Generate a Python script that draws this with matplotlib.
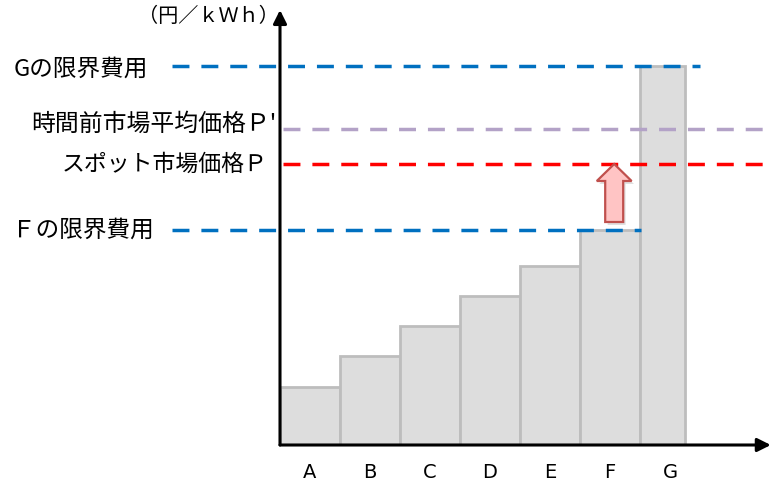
import matplotlib.pyplot as plt
from matplotlib.patches import Polygon

plt.rcParams['font.family'] = ['Noto Sans CJK JP', 'DejaVu Sans']
plt.rcParams['lines.scale_dashes'] = False

# marginal cost per plant (merit order)
plants = ['A', 'B', 'C', 'D', 'E', 'F', 'G']
cost = [5.8, 8.9, 11.9, 14.9, 17.9, 21.5, 37.9]
widths = [1, 1, 1, 1, 1, 1, 0.75]

# price levels
g_cost = 37.9
f_cost = 21.5
spot_p = 28.1
intraday_p = 31.6

fig = plt.figure(figsize=(7.71, 4.82), dpi=100)
ax = fig.add_axes([280 / 771, 37 / 482, 491 / 771, 435 / 482])
ax.set_xlim(0, 491 / 60)
ax.set_ylim(0, 43.5)
ax.axis('off')

lefts = [i for i in range(len(plants))]
ax.bar(lefts, cost, width=widths, align='edge', color='#DDDDDD',
       edgecolor='#BDBDBD', linewidth=2.0, zorder=2)

for i, name in enumerate(plants):
    ax.text(i + 0.5, -2.75, name, ha='center', va='center', fontsize=14,
            family='DejaVu Sans', clip_on=False)

dash = (0, (12.2, 8.6))
ax.plot([-1.8, 7.0], [g_cost, g_cost], color='#0070C0', lw=2.5, ls=dash,
        clip_on=False, zorder=3)
ax.plot([-1.8, 6.02], [f_cost, f_cost], color='#0070C0', lw=2.5, ls=dash,
        clip_on=False, zorder=3)
ax.plot([0.05, 8.2], [intraday_p, intraday_p], color='#B3A2C7', lw=2.5,
        ls=dash, clip_on=False, zorder=3)
ax.plot([0.05, 8.2], [spot_p, spot_p], color='#FF0000', lw=2.5, ls=dash,
        clip_on=False, zorder=3)

labels = [('Gの限界費用', g_cost - 0.35, -2.2, 17),
          ('時間前市場平均価格Ｐ\'', intraday_p + 0.5, -0.05, 17.2),
          ('スポット市場価格Ｐ', spot_p, -0.2, 16.5),
          ('Ｆの限界費用', f_cost, -2.1, 17)]
for text, y, x, size in labels:
    ax.text(x, y, text, ha='right', va='center', fontsize=size, clip_on=False)

ax.text(-0.02, 42.8, '（円／ｋＷｈ）', ha='right', va='center', fontsize=14.5,
        clip_on=False)

# rise from F's marginal cost to the spot price
cx = 5.57
hw, sw = 0.29, 0.15
base = f_cost + 0.8
tip = spot_p
neck = tip - 1.7
outline = [(cx - sw, base), (cx + sw, base), (cx + sw, neck),
           (cx + hw, neck), (cx, tip), (cx - hw, neck), (cx - sw, neck)]
shadow = Polygon([(x + 0.04, y - 0.3) for x, y in outline], closed=True,
                 facecolor='#000000', alpha=0.12, edgecolor='none', zorder=4)
ax.add_patch(shadow)
arrow = Polygon(outline, closed=True, facecolor='#FFC4C4',
                edgecolor='#C0504D', linewidth=1.6, zorder=4)
ax.add_patch(arrow)

# axes with arrow heads
ax.annotate('', xy=(8.18, 0), xytext=(0, 0),
            arrowprops=dict(arrowstyle='-|>', color='black', lw=2.2,
                            mutation_scale=20, shrinkA=0, shrinkB=0),
            annotation_clip=False, zorder=5)
ax.annotate('', xy=(0, 43.5), xytext=(0, 0),
            arrowprops=dict(arrowstyle='-|>', color='black', lw=2.2,
                            mutation_scale=20, shrinkA=0, shrinkB=0),
            annotation_clip=False, zorder=5)

fig.savefig('out.png', dpi=100)
